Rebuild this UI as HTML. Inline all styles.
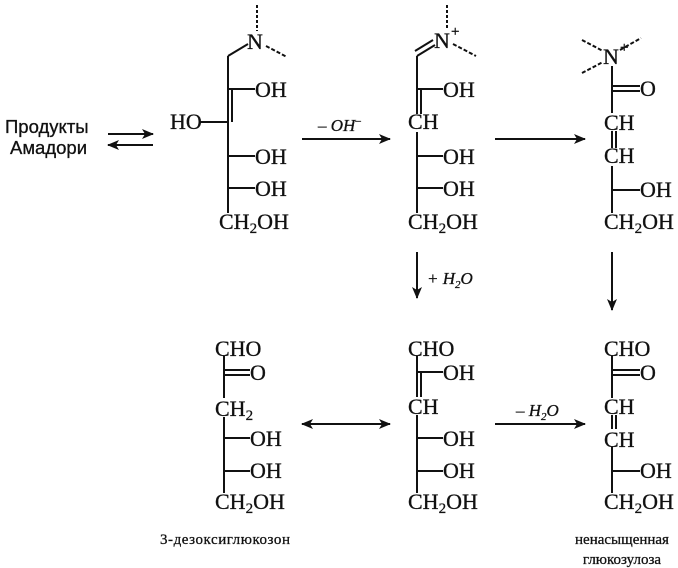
<!DOCTYPE html>
<html><head><meta charset="utf-8"><style>
html,body{margin:0;padding:0;background:#fff;}
svg{display:block}
text{font-family:"Liberation Serif",serif;fill:#111;stroke:#111;stroke-width:0.3;}
.s{font-family:"Liberation Sans",sans-serif;}
</style></head><body>
<svg width="678" height="568" viewBox="0 0 678 568" xmlns="http://www.w3.org/2000/svg">
<defs>
<marker id="a" markerWidth="12" markerHeight="10" refX="11" refY="5" orient="auto" markerUnits="userSpaceOnUse">
<path d="M0,0 L12,5 L0,10 L3,5 Z" fill="#111"/></marker>
</defs>
<g stroke="#111" stroke-width="2" fill="none">
<line x1="257" y1="5" x2="257" y2="31" stroke-dasharray="3,2"/>
<line x1="228" y1="56" x2="248" y2="44"/>
<line x1="266" y1="46" x2="287" y2="57" stroke-dasharray="4,2"/>
<line x1="228" y1="56" x2="228" y2="213"/>
<line x1="232" y1="90" x2="232" y2="122"/>
<line x1="228" y1="89" x2="255" y2="89"/>
<line x1="200" y1="122" x2="228" y2="122"/>
<line x1="228" y1="156" x2="255" y2="156"/>
<line x1="228" y1="188" x2="255" y2="188"/>
<line x1="447" y1="5" x2="447" y2="30" stroke-dasharray="3,2"/>
<line x1="417" y1="56" x2="435" y2="45"/>
<line x1="415" y1="51" x2="433" y2="40"/>
<line x1="453" y1="44" x2="476" y2="56" stroke-dasharray="4,2"/>
<line x1="417" y1="56" x2="417" y2="114"/>
<line x1="421" y1="90" x2="421" y2="114"/>
<line x1="417" y1="132" x2="417" y2="213"/>
<line x1="417" y1="89" x2="443" y2="89"/>
<line x1="417" y1="156" x2="443" y2="156"/>
<line x1="417" y1="188" x2="443" y2="188"/>
<line x1="582" y1="40" x2="603" y2="51" stroke-dasharray="4,2"/>
<line x1="620" y1="50" x2="641" y2="38" stroke-dasharray="4,2"/>
<line x1="582" y1="73" x2="603" y2="62" stroke-dasharray="4,2"/>
<line x1="612" y1="66" x2="612" y2="113"/>
<line x1="612" y1="86" x2="640" y2="86"/>
<line x1="612" y1="91" x2="640" y2="91"/>
<line x1="612" y1="131" x2="612" y2="148"/>
<line x1="616" y1="131" x2="616" y2="148"/>
<line x1="612" y1="166" x2="612" y2="213"/>
<line x1="612" y1="190" x2="640" y2="190"/>
<line x1="224" y1="356" x2="224" y2="398"/>
<line x1="224" y1="370" x2="250" y2="370"/>
<line x1="224" y1="375" x2="250" y2="375"/>
<line x1="224" y1="417" x2="224" y2="493"/>
<line x1="224" y1="438" x2="250" y2="438"/>
<line x1="224" y1="471" x2="250" y2="471"/>
<line x1="417" y1="356" x2="417" y2="397"/>
<line x1="421" y1="372" x2="421" y2="397"/>
<line x1="417" y1="372" x2="443" y2="372"/>
<line x1="417" y1="415" x2="417" y2="493"/>
<line x1="417" y1="438" x2="443" y2="438"/>
<line x1="417" y1="471" x2="443" y2="471"/>
<line x1="612" y1="356" x2="612" y2="398"/>
<line x1="612" y1="370" x2="640" y2="370"/>
<line x1="612" y1="375" x2="640" y2="375"/>
<line x1="612" y1="415" x2="612" y2="429"/>
<line x1="616" y1="415" x2="616" y2="429"/>
<line x1="612" y1="447" x2="612" y2="493"/>
<line x1="612" y1="471" x2="640" y2="471"/>
<line x1="108" y1="134" x2="153" y2="134" marker-end="url(#a)"/>
<line x1="153" y1="145" x2="108" y2="145" marker-end="url(#a)"/>
<line x1="302" y1="139" x2="390" y2="139" marker-end="url(#a)"/>
<line x1="495" y1="139" x2="585" y2="139" marker-end="url(#a)"/>
<line x1="417" y1="252" x2="417" y2="298" marker-end="url(#a)"/>
<line x1="612" y1="252" x2="612" y2="310" marker-end="url(#a)"/>
<line x1="302" y1="424" x2="390" y2="424" marker-end="url(#a)"/>
<line x1="390" y1="424" x2="302" y2="424" marker-end="url(#a)"/>
<line x1="495" y1="424" x2="585" y2="424" marker-end="url(#a)"/>
</g>
<g font-size="22">
<text x="247" y="49">N</text>
<text x="255" y="97">OH</text>
<text x="170" y="129">HO</text>
<text x="255" y="164">OH</text>
<text x="255" y="196">OH</text>
<text x="219" y="229">CH<tspan font-size="15" dy="4">2</tspan><tspan dy="-4">OH</tspan></text>

<text x="434" y="48">N</text><text x="451" y="36" font-size="15">+</text>
<text x="443" y="97">OH</text>
<text x="408" y="129">CH</text>
<text x="443" y="164">OH</text>
<text x="443" y="196">OH</text>
<text x="408" y="229">CH<tspan font-size="15" dy="4">2</tspan><tspan dy="-4">OH</tspan></text>

<text x="603" y="64">N</text><text x="620" y="52" font-size="15">+</text>
<text x="640" y="96">O</text>
<text x="604" y="130">CH</text>
<text x="604" y="163">CH</text>
<text x="640" y="197">OH</text>
<text x="604" y="229">CH<tspan font-size="15" dy="4">2</tspan><tspan dy="-4">OH</tspan></text>

<text x="215" y="356">CHO</text>
<text x="250" y="380">O</text>
<text x="215" y="416">CH<tspan font-size="15" dy="4">2</tspan></text>
<text x="250" y="446">OH</text>
<text x="250" y="478">OH</text>
<text x="215" y="509">CH<tspan font-size="15" dy="4">2</tspan><tspan dy="-4">OH</tspan></text>

<text x="408" y="356">CHO</text>
<text x="443" y="380">OH</text>
<text x="408" y="414">CH</text>
<text x="443" y="446">OH</text>
<text x="443" y="478">OH</text>
<text x="408" y="509">CH<tspan font-size="15" dy="4">2</tspan><tspan dy="-4">OH</tspan></text>

<text x="604" y="356">CHO</text>
<text x="640" y="380">O</text>
<text x="604" y="414">CH</text>
<text x="604" y="447">CH</text>
<text x="640" y="478">OH</text>
<text x="604" y="509">CH<tspan font-size="15" dy="4">2</tspan><tspan dy="-4">OH</tspan></text>
</g>
<g font-style="italic" font-size="17" stroke-width="0">
<text x="318" y="131">– OH<tspan font-size="11" dy="-7">–</tspan></text>
<text x="427" y="284">+ H<tspan font-size="11" dy="4">2</tspan><tspan dy="-4">O</tspan></text>
<text x="516" y="416">– H<tspan font-size="11" dy="4">2</tspan><tspan dy="-4">O</tspan></text>
</g>
<text class="s" x="5" y="133" font-size="18.5" stroke-width="0">Продукты</text>
<text class="s" x="10" y="154" font-size="18.5" stroke-width="0">Амадори</text>
<text x="160" y="544" font-size="15" textLength="130">3-дезоксиглюкозон</text>
<text x="622" y="544" font-size="15" text-anchor="middle">ненасыщенная</text>
<text x="622" y="564" font-size="15" text-anchor="middle">глюкозулоза</text>
</svg>
</body></html>
